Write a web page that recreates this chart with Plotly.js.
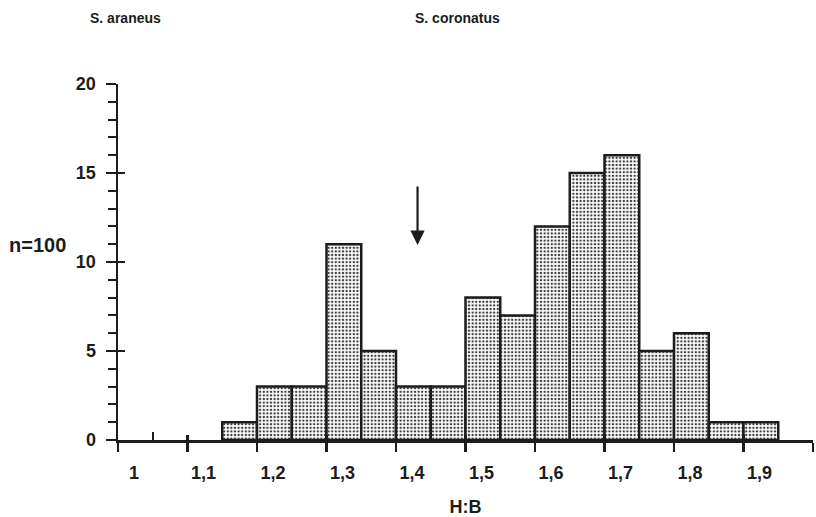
<!DOCTYPE html>
<html>
<head>
<meta charset="utf-8">
<script src="https://cdn.plot.ly/plotly-3.0.1.min.js"></script>
<style>
  html, body { margin: 0; padding: 0; background: #fff; }
  #chart { width: 816px; height: 517px; }
</style>
</head>
<body>
<div id="chart"></div>
<script>
// Histogram of H:B ratio (bin width 0.05), n = 100
const binCenters = [1.175, 1.225, 1.275, 1.325, 1.375, 1.425, 1.475, 1.525,
                    1.575, 1.625, 1.675, 1.725, 1.775, 1.825, 1.875, 1.925];
const counts     = [1, 3, 3, 11, 5, 3, 3, 8, 7, 12, 15, 16, 5, 6, 1, 1];
const binWidth = 0.05;

const xTickVals  = [1, 1.1, 1.2, 1.3, 1.4, 1.5, 1.6, 1.7, 1.8, 1.9, 2.0];
const xTickText  = ['1', '1,1', '1,2', '1,3', '1,4', '1,5', '1,6', '1,7', '1,8', '1,9', ''];
const yTickVals  = [0, 5, 10, 15, 20];

// arrow marking the boundary between the two species
const arrowX = 1.431;
const arrowTipY = 10.96;
const arrowTailY = 14.33;

const ink = '#1c1c1c';
const sans = 'Liberation Sans, Arial, sans-serif';
const tickFont = { family: sans, size: 18, color: ink, weight: 'bold' };
const speciesFont = { family: sans, size: 14, color: ink, weight: 'bold' };

const trace = {
  type: 'bar',
  x: binCenters,
  y: counts,
  width: binWidth,
  marker: {
    color: '#ffffff',
    line: { color: ink, width: 2.5 },
    pattern: { shape: '.', fgcolor: '#3a3a3a', bgcolor: '#ffffff', size: 3.6, solidity: 0.35 }
  },
  hoverinfo: 'x+y'
};

const layout = {
  width: 816,
  height: 517,
  margin: { l: 118, r: 3, t: 84, b: 77 },
  paper_bgcolor: '#fff',
  plot_bgcolor: '#fff',
  showlegend: false,
  bargap: 0,
  xaxis: {
    range: [1, 2],
    showgrid: false,
    zeroline: false,
    showline: true,
    linecolor: ink,
    linewidth: 2.5,
    tickmode: 'array',
    tickvals: xTickVals,
    ticktext: xTickText,
    ticks: 'outside',
    ticklen: 9,
    tickwidth: 2.5,
    tickcolor: ink,
    ticklabelshift: 16,
    ticklabelstandoff: 6,
    tickfont: tickFont,
    minor: { tickvals: [1.05], ticks: 'inside', ticklen: 8, tickwidth: 2, tickcolor: ink },
    title: { text: 'H:B', font: { family: sans, size: 18, color: ink, weight: 'bold' }, standoff: 20 },
    fixedrange: true
  },
  xaxis2: {
    overlaying: 'x',
    range: [1, 2],
    showgrid: false,
    zeroline: false,
    showline: false,
    tickmode: 'array',
    tickvals: xTickVals,
    ticks: 'inside',
    ticklen: 5,
    tickwidth: 2.5,
    tickcolor: ink,
    showticklabels: false,
    anchor: 'y'
  },
  yaxis: {
    range: [0, 20],
    showgrid: false,
    zeroline: false,
    showline: true,
    linecolor: ink,
    linewidth: 2.5,
    tickmode: 'array',
    tickvals: yTickVals,
    ticks: 'outside',
    ticklen: 10,
    tickwidth: 2.5,
    tickcolor: ink,
    ticklabelstandoff: 6,
    tickfont: tickFont,
    minor: { dtick: 1, ticks: 'outside', ticklen: 8, tickwidth: 2, tickcolor: ink },
    fixedrange: true
  },
  yaxis2: {
    overlaying: 'y',
    range: [0, 20],
    showgrid: false,
    zeroline: false,
    showline: false,
    tickmode: 'array',
    tickvals: yTickVals,
    ticks: 'inside',
    ticklen: 7,
    tickwidth: 2.5,
    tickcolor: ink,
    showticklabels: false,
    anchor: 'x'
  },
  annotations: [
    { text: 'S. araneus', xref: 'paper', yref: 'paper', x: 0.011, y: 1.185,
      showarrow: false, xanchor: 'center', yanchor: 'middle', font: speciesFont },
    { text: 'S. coronatus', xref: 'paper', yref: 'paper', x: 0.488, y: 1.185,
      showarrow: false, xanchor: 'center', yanchor: 'middle', font: speciesFont },
    { text: 'n=100', xref: 'paper', yref: 'paper', x: -0.1165, y: 0.548,
      showarrow: false, xanchor: 'center', yanchor: 'middle',
      font: { family: sans, size: 20, color: ink, weight: 'bold' } },
    { text: '', xref: 'x', yref: 'y', x: arrowX, y: arrowTipY,
      axref: 'x', ayref: 'y', ax: arrowX, ay: arrowTailY,
      showarrow: true, arrowhead: 2, arrowsize: 1.3, arrowwidth: 2.2, arrowcolor: ink, standoff: 0 }
  ]
};

const traceInvisible = { type: 'scatter', x: [1], y: [0], xaxis: 'x2', yaxis: 'y2', mode: 'markers',
  marker: { opacity: 0 }, hoverinfo: 'skip' };

Plotly.newPlot('chart', [trace, traceInvisible], layout, { displayModeBar: false, staticPlot: true });
</script>
</body>
</html>
